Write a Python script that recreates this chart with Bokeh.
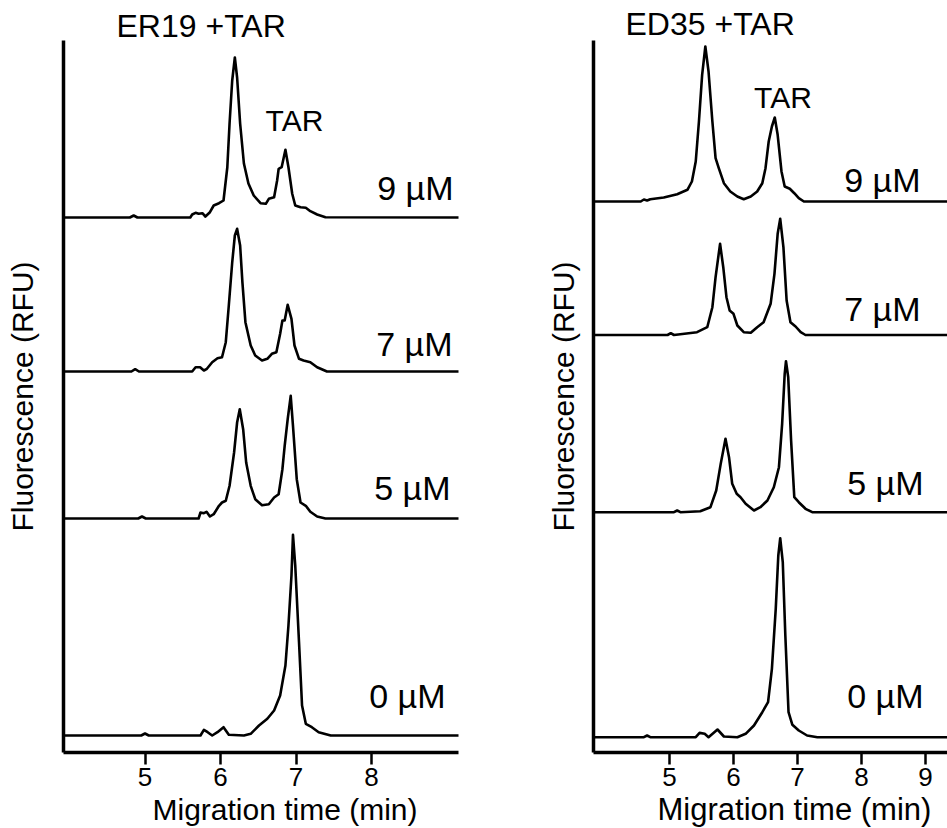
import numpy as np
from bokeh.plotting import figure
from bokeh.models import Label, FixedTicker, Range1d, Title
from bokeh.layouts import row
from bokeh.embed import file_html
from bokeh.resources import INLINE

# ---------------- DATA (migration time in min, fluorescence in relative units) -------------
conc_labels = ["9 µM", "7 µM", "5 µM", "0 µM"]

# ER19 + TAR
er19_t_9 = [3.8, 4.80, 4.85, 4.90, 5.60, 5.625, 5.67, 5.71, 5.76, 5.80, 5.86, 5.91, 5.98, 6.04, 6.09,
            6.12, 6.155, 6.19, 6.22, 6.26, 6.31, 6.37, 6.44, 6.53, 6.60, 6.64, 6.71, 6.75, 6.77, 6.81,
            6.86, 6.90, 6.95, 6.99, 7.06, 7.13, 7.19, 7.28, 7.39, 9.4]
er19_v_9 = [0, 0, 2, 0, 0, 3, 4.7, 3.7, 4.3, 1, 5.3, 12, 14.3, 17, 50,
            94, 137, 160, 140, 94, 54, 34, 22, 14.3, 13.7, 18.7, 20.3, 37, 48.7, 50.3,
            67.7, 50.3, 23.7, 12, 10.3, 9.7, 6.3, 3, 0.3, 0]

er19_t_7 = [3.8, 4.82, 4.87, 4.92, 5.625, 5.67, 5.73, 5.78, 5.82, 5.89, 5.96, 6.02, 6.07, 6.11, 6.155,
            6.19, 6.22, 6.26, 6.29, 6.33, 6.40, 6.46, 6.55, 6.62, 6.68, 6.74, 6.79, 6.82, 6.85, 6.89,
            6.94, 6.98, 7.04, 7.10, 7.19, 7.28, 7.41, 9.4]
er19_v_7 = [0, 0, 2.3, 0, 0, 4.3, 4.3, 1, 2.7, 9.3, 13.3, 14.3, 29.3, 66, 109,
            136, 142.7, 126, 89.3, 49.3, 26, 16, 11, 12.7, 17.7, 19.3, 37.7, 51, 51, 66.7,
            52.7, 26, 12.7, 11, 9.3, 4.3, 0, 0]

er19_t_5 = [3.8, 4.91, 4.96, 5.01, 5.71, 5.735, 5.78, 5.815, 5.86, 5.91, 5.98, 6.02, 6.07, 6.12, 6.18,
            6.22, 6.255, 6.30, 6.34, 6.40, 6.46, 6.55, 6.64, 6.71, 6.77, 6.82, 6.85, 6.89, 6.93, 6.96,
            7.01, 7.06, 7.13, 7.19, 7.28, 7.39, 9.4]
er19_v_5 = [0, 0, 2, 0, 0, 6, 5.3, 6.7, 2, 4.3, 12.7, 16, 17.7, 32.7, 66,
            96, 109.3, 89.3, 56, 32.7, 19.3, 13.3, 14.3, 21, 24.3, 49.3, 72.7, 99.3, 122.7, 92.7,
            39.3, 16, 12.7, 6.7, 2, 0, 0]

er19_t_0 = [3.8, 4.95, 5.0, 5.05, 5.735, 5.78, 5.83, 5.89, 5.96, 6.04, 6.11, 6.31, 6.40, 6.51, 6.62,
            6.71, 6.79, 6.86, 6.90, 6.94, 6.96, 6.99, 7.04, 7.08, 7.13, 7.21, 7.30, 7.46, 9.4]
er19_v_0 = [0, 0, 2, 0, 0, 5.7, 3.3, 0, 3.3, 8.3, 0.7, 0, 1.7, 10, 16.7,
            25, 40, 70, 110, 160, 200.7, 170, 93.3, 30, 11.7, 8.3, 3.3, 0, 0]

# ED35 + TAR
ed35_t_9 = [3.7, 4.39, 4.55, 4.60, 4.65, 4.70, 4.91, 5.12, 5.28, 5.35, 5.41, 5.46, 5.51, 5.56, 5.61,
            5.67, 5.72, 5.77, 5.85, 5.95, 6.06, 6.16, 6.27, 6.37, 6.45, 6.50, 6.55, 6.60, 6.645, 6.69,
            6.75, 6.80, 6.88, 6.95, 7.02, 7.10, 9.5]
ed35_v_9 = [0, 0, 0, 2, 1, 2.3, 4, 7.3, 11.7, 20, 40, 80, 126.7, 155, 130,
            80, 43.3, 33.3, 18.3, 10, 5, 2.3, 5, 10, 18.3, 33.3, 60, 75, 84, 66.7,
            30, 15, 12.7, 8.3, 3.3, 0, 0]

ed35_t_7 = [3.7, 4.97, 5.02, 5.07, 5.43, 5.59, 5.67, 5.72, 5.79, 5.84, 5.89, 5.94, 6.00, 6.06, 6.16,
            6.27, 6.37, 6.47, 6.58, 6.64, 6.69, 6.73, 6.78, 6.83, 6.89, 6.97, 7.05, 7.125, 9.5]
ed35_v_7 = [0, 0, 1.8, 0, 2.8, 7.8, 27.8, 57.8, 91.2, 67.8, 37.8, 24.5, 21.2, 9.5, 2.8,
            2.2, 7.8, 12.8, 31.2, 61.2, 101.2, 116.2, 87.8, 34.5, 12.8, 8.5, 2.8, 0, 0]

ed35_t_5 = [3.7, 5.07, 5.12, 5.17, 5.48, 5.64, 5.73, 5.80, 5.875, 5.93, 5.98, 6.05, 6.11, 6.19, 6.32,
            6.42, 6.53, 6.63, 6.71, 6.76, 6.80, 6.82, 6.855, 6.90, 6.95, 7.02, 7.125, 7.23, 9.5]
ed35_v_5 = [0, 0, 1.7, 0, 1, 5, 21.7, 48.3, 73.4, 55, 28.4, 18.4, 15, 8.4, 1.7,
            5, 11.7, 25, 45, 88.4, 138.4, 151, 135, 71.7, 15, 10, 3.4, 0, 0]

ed35_t_0 = [3.7, 4.60, 4.65, 4.70, 5.41, 5.47, 5.55, 5.61, 5.75, 5.85, 6.06, 6.19, 6.32, 6.45, 6.54,
            6.60, 6.66, 6.70, 6.73, 6.77, 6.81, 6.86, 6.92, 7.02, 7.15, 7.31, 9.5]
ed35_v_0 = [0, 0, 1.7, 0, 0, 4.3, 3.4, 0, 7.7, 0.7, 0, 3.4, 11.7, 25, 35,
            68.4, 128.4, 181.7, 199, 175, 101.7, 25, 12.4, 6.7, 1.7, 0, 0]

er19_ticks = [5, 6, 7, 8]
ed35_ticks = [5, 6, 7, 8, 9]

# ---------------- LAYOUT / STYLE ----------------
FONT = "Liberation Sans"
H = 828
FRAME_TOP = 40      # both panels share the same frame top/bottom (row alignment)
FRAME_BOTTOM = 752
TAR_SHIFT = 10      # label baseline correction (px)
CONC_SHIFT = 13


def make_panel(width, frame_left, frame_right, x_range, traces, offsets, ticks,
               title_txt, title_offset, title_standoff,
               xlabel_size, xlabel_offset, xlabel_standoff, ylabel_standoff, tar_pos, conc_pos):
    y_top = FRAME_BOTTOM - FRAME_TOP
    p = figure(width=width, height=H, x_range=Range1d(*x_range), y_range=Range1d(0, y_top),
               output_backend="svg", toolbar_location=None,
               min_border_left=frame_left, min_border_right=width - frame_right,
               min_border_top=FRAME_TOP, min_border_bottom=H - FRAME_BOTTOM)
    p.outline_line_color = None
    p.xgrid.visible = False
    p.ygrid.visible = False
    p.background_fill_color = "white"
    p.border_fill_color = "white"

    for (t, v), off in zip(traces, offsets):
        p.line(t, np.array(v) + off, line_color="black", line_width=2.6, line_join="round")

    xa = p.xaxis[0]
    xa.ticker = FixedTicker(ticks=ticks)
    xa.axis_line_width = 3.5
    xa.axis_line_color = "black"
    xa.major_tick_line_width = 2.5
    xa.major_tick_out = 12
    xa.major_tick_in = 0
    xa.minor_tick_line_color = None
    xa.major_label_text_font = FONT
    xa.major_label_text_font_size = "26px"
    xa.major_label_text_color = "black"
    xa.major_label_standoff = 3

    ya = p.yaxis[0]
    ya.ticker = FixedTicker(ticks=[])
    ya.axis_line_width = 3.5
    ya.axis_line_color = "black"
    ya.minor_tick_line_color = None
    ya.major_tick_line_color = None
    ya.axis_label = "Fluorescence (RFU)"
    ya.axis_label_text_font = FONT
    ya.axis_label_text_font_size = "30px"
    ya.axis_label_text_font_style = "normal"
    ya.axis_label_text_color = "black"
    ya.axis_label_standoff = ylabel_standoff

    p.add_layout(Title(text=title_txt, align="left", offset=title_offset, standoff=title_standoff,
                       text_font=FONT, text_font_size="32px", text_font_style="normal",
                       text_color="black"), "above")
    p.add_layout(Title(text="Migration time (min)", align="left", offset=xlabel_offset,
                       standoff=xlabel_standoff, text_font=FONT, text_font_size=xlabel_size,
                       text_font_style="normal", text_color="black"), "below")

    p.add_layout(Label(x=tar_pos[0], y=tar_pos[1] + TAR_SHIFT, text="TAR", text_align="center",
                       text_baseline="alphabetic", text_font=FONT, text_font_size="30px",
                       text_color="black"))
    for lab, (lx, ly) in zip(conc_labels, conc_pos):
        p.add_layout(Label(x=lx, y=ly + CONC_SHIFT, text=lab, text_align="right",
                           text_baseline="alphabetic", text_font=FONT, text_font_size="34px",
                           text_color="black"))
    return p


def ypos(y):
    return FRAME_BOTTOM - y


# left panel pixel geometry: x = 144.5 + 75.5*(t-5); frame 63..458
def lt(x):
    return 5 + (x - 144.5) / 75.5


left = make_panel(
    470, 63, 458, (lt(63), lt(458)),
    [(er19_t_9, er19_v_9), (er19_t_7, er19_v_7), (er19_t_5, er19_v_5), (er19_t_0, er19_v_0)],
    [ypos(217), ypos(371), ypos(518), ypos(735)],
    er19_ticks, "ER19 +TAR", 53, -6,
    "30px", 89, 4, 25,
    (lt(294), ypos(130)),
    [(lt(453), ypos(200)), (lt(452), ypos(356)), (lt(450), ypos(500)), (lt(445), ypos(708))])


# right panel pixel geometry (relative to page): x = 669 + 64*(t-5); frame 593..947
def rt(x):
    return 5 + (x - 669) / 64


right = make_panel(
    477, 593 - 470, 947 - 470, (rt(593), rt(947)),
    [(ed35_t_9, ed35_v_9), (ed35_t_7, ed35_v_7), (ed35_t_5, ed35_v_5), (ed35_t_0, ed35_v_0)],
    [ypos(201), ypos(334.5), ypos(511.7), ypos(736.7)],
    ed35_ticks, "ED35 +TAR", 32, -3,
    "31px", 64, 3, 14,
    (rt(782.5), ypos(107)),
    [(rt(920), ypos(192)), (rt(920), ypos(321)), (rt(923), ypos(495)), (rt(923), ypos(708))])

layout = row(left, right, spacing=0)
open("out.html", "w").write(file_html(layout, INLINE))
